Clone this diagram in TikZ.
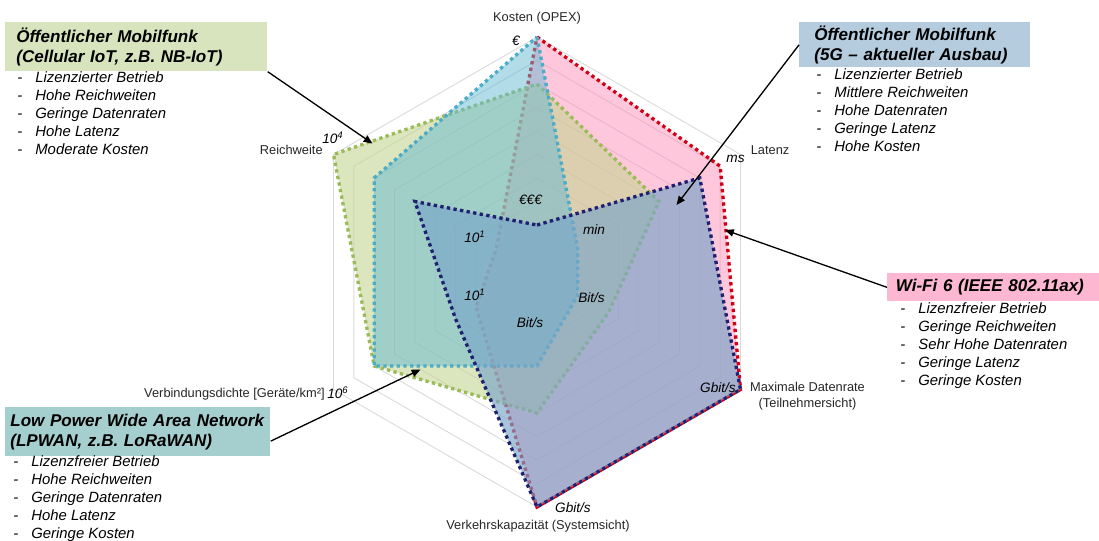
\documentclass[tikz,border=0pt]{standalone}
\usepackage{fontspec}
\setmainfont{Liberation Sans}
\usepackage{xcolor}
\usepackage{tikz}
\usetikzlibrary{arrows.meta}

\definecolor{wifiline}{RGB}{210,0,20}
\definecolor{wififill}{RGB}{255,143,183}
\definecolor{nbline}{RGB}{155,187,89}
\definecolor{nbfill}{RGB}{197,213,147}
\definecolor{lpline}{RGB}{75,172,198}
\definecolor{lpfill}{RGB}{100,185,210}
\definecolor{fgline}{RGB}{32,32,112}
\definecolor{fgfill}{RGB}{120,165,200}
\definecolor{gridgrey}{RGB}{217,217,217}
\definecolor{nbboxcol}{RGB}{215,228,189}
\definecolor{fgboxcol}{RGB}{180,204,222}
\definecolor{wifiboxcol}{RGB}{253,183,208}
\definecolor{lpboxcol}{RGB}{165,207,206}

\newcommand{\rmax}{4.7}
\newcommand{\listdash}{\makebox[0.36cm][l]{-}}

\tikzset{
  radarline/.style={line width=1.9pt, dash pattern=on 1.9pt off 1.9pt, fill opacity=0.5},
  gridline/.style={draw=gridgrey, line width=0.5pt},
  axislabel/.style={font=\fontsize{7.3}{9.1}\selectfont, text=black!85, inner sep=0pt},
  unitlabel/.style={font=\fontsize{7.75}{9}\selectfont\itshape, inner sep=0pt},
  titlebox/.style={font=\fontsize{9.7}{11.3}\selectfont\bfseries\itshape, align=left, anchor=north west, inner ysep=0pt},
  listitem/.style={font=\fontsize{8.47}{10.2}\selectfont\itshape, anchor=base west, inner sep=0pt},
  pointer/.style={-{Triangle[length=5pt,width=4.2pt]}, line width=0.75pt}
}

\begin{document}
\begin{tikzpicture}
	\useasboundingbox (0,0) rectangle (21.98,10.8);

  % radar chart
  \begin{scope}[shift={(10.74,5.36)}]
    \foreach \i in {1,...,10}
      \draw[gridline] (90:\i*\rmax/10) \foreach \a in {30,-30,-90,-150,150} {-- (\a:\i*\rmax/10)} -- cycle;

    \filldraw[radarline, draw=wifiline, fill=wififill]
      (90:1.0*\rmax) -- (30:0.9*\rmax) -- (-30:1.0*\rmax) -- (-90:1.0*\rmax) -- (210:0.3*\rmax) -- (150:0.2*\rmax) -- cycle;
    \filldraw[radarline, fill opacity=0.6, draw=nbline, fill=nbfill]
      (90:0.8*\rmax) -- (30:0.6*\rmax) -- (-30:0.35*\rmax) -- (-90:0.6*\rmax) -- (210:0.8*\rmax) -- (150:1.0*\rmax) -- cycle;
    \filldraw[radarline, draw=lpline, fill=lpfill]
      (90:1.0*\rmax) -- (30:0.2*\rmax) -- (-30:0.2*\rmax) -- (-90:0.4*\rmax) -- (210:0.8*\rmax) -- (150:0.8*\rmax) -- cycle;
    \filldraw[radarline, fill opacity=0.65, draw=fgline, fill=fgfill]
      (90:0.2*\rmax) -- (30:0.8*\rmax) -- (-30:1.0*\rmax) -- (-90:1.0*\rmax) -- (210:0.4*\rmax) -- (150:0.6*\rmax) -- cycle;
  \end{scope}

  % axis labels
  \node[axislabel] (kosten) at (10.74,10.44) {Kosten (OPEX)};
  \node[axislabel, anchor=west] (latenz) at (15.01,7.8) {Latenz};
  \node[axislabel, align=center] (datenrate) at (16.15,2.88) {Maximale Datenrate\\(Teilnehmersicht)};
  \node[axislabel] (kapazitaet) at (10.76,0.28) {Verkehrskapazität (Systemsicht)};
  \node[axislabel, anchor=east] (dichte) at (6.5,2.92) {Verbindungsdichte [Geräte/km²]};
  \node[axislabel, anchor=east] (reichweite) at (6.46,7.8) {Reichweite};

  \node[unitlabel] (euro) at (10.32,9.99) {€};
  \node[unitlabel] (ms) at (14.71,7.62) {ms};
  \node[unitlabel] (gbitdr) at (14.36,3.04) {Gbit/s};
  \node[unitlabel] (gbitvk) at (11.46,0.64) {Gbit/s};
  \node[unitlabel] (dichtemax) at (6.76,2.94) {10\textsuperscript{6}};
  \node[unitlabel] (reichmax) at (6.66,8.04) {10\textsuperscript{4}};
  \node[unitlabel] (euromin) at (10.61,6.8) {€€€};
  \node[unitlabel] (min) at (11.88,6.2) {min};
  \node[unitlabel] (reichmin) at (9.5,6.06) {10\textsuperscript{1}};
  \node[unitlabel] (dichtemin) at (9.5,4.9) {10\textsuperscript{1}};
  \node[unitlabel] (bitdr) at (11.83,4.84) {Bit/s};
  \node[unitlabel] (bitvk) at (10.6,4.34) {Bit/s};

  % technology boxes
  \node[titlebox, fill=nbboxcol, inner xsep=0.22cm, text width=4.8cm, minimum height=0.98cm] (nbtitle) at (0.1,10.36)
    {Öffentlicher Mobilfunk\\(Cellular IoT, z.B. NB-IoT)};
  \foreach \t [count=\i] in {Lizenzierter Betrieb, Hohe Reichweiten, Geringe Datenraten, Hohe Latenz, Moderate Kosten}
    \node[listitem] (nbitem\i) at (0.34,{9.5-0.36*\i}) {\listdash\t};

  \node[titlebox, fill=fgboxcol, inner xsep=0.3cm, text width=4.02cm, minimum height=0.9cm] (fgtitle) at (15.98,10.36)
    {Öffentlicher Mobilfunk\\(5G – aktueller Ausbau)};
  \foreach \t [count=\i] in {Lizenzierter Betrieb, Mittlere Reichweiten, Hohe Datenraten, Geringe Latenz, Hohe Kosten}
    \node[listitem] (fgitem\i) at (16.32,{9.56-0.36*\i}) {\listdash\t};

  \node[titlebox, fill=wifiboxcol, inner xsep=0.17cm, text width=3.9cm, minimum height=0.56cm] (wifititle) at (17.74,5.34)
    {Wi-Fi 6 (IEEE 802.11ax)};
  \foreach \t [count=\i] in {Lizenzfreier Betrieb, Geringe Reichweiten, Sehr Hohe Datenraten, Geringe Latenz, Geringe Kosten}
    \node[listitem] (wifiitem\i) at (18.0,{4.89-0.36*\i}) {\listdash\t};

  \node[titlebox, fill=lpboxcol, inner xsep=0.1cm, text width=5.1cm, minimum height=0.98cm] (lptitle) at (0.1,2.66)
    {Low Power Wide Area Network\\(LPWAN, z.B. LoRaWAN)};
  \foreach \t [count=\i] in {Lizenzfreier Betrieb, Hohe Reichweiten, Geringe Datenraten, Hohe Latenz, Geringe Kosten}
    \node[listitem] (lpitem\i) at (0.26,{1.83-0.36*\i}) {\listdash\t};

  % pointers
  \coordinate (nbtip) at (7.45,7.93);
  \coordinate (fgtip) at (13.53,6.7);
  \coordinate (wifitip) at (14.5,6.2);
  \coordinate (lptip) at (8.41,3.41);
  \draw[pointer] (nbtitle.south east) -- (nbtip);
  \draw[pointer] (fgtitle.west) -- (fgtip);
  \draw[pointer] (wifititle.west) -- (wifitip);
  \draw[pointer] (lptitle.-4) -- (lptip);

\end{tikzpicture}
\end{document}
